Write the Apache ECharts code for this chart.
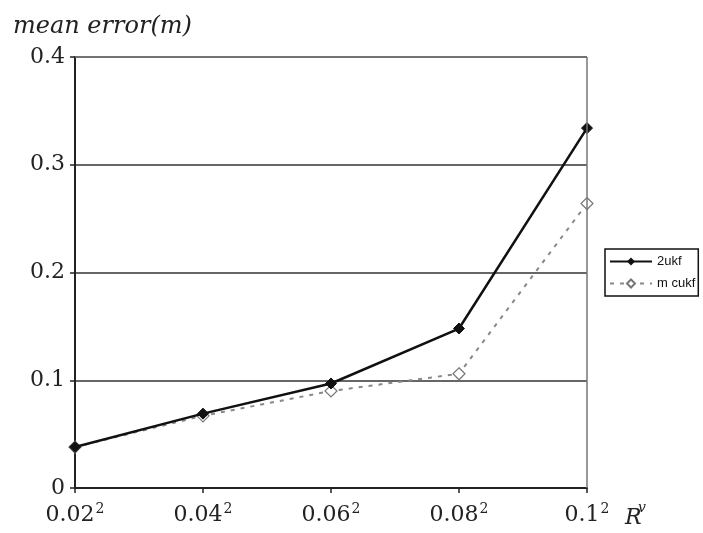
<!DOCTYPE html>
<html>
<head>
<meta charset="utf-8">
<script src="https://cdn.jsdelivr.net/npm/echarts@6/dist/echarts.min.js"></script>
<style>
  html, body { margin: 0; padding: 0; background: #fff; }
  #chart { width: 703px; height: 533px; }
</style>
</head>
<body>
<div id="chart"></div>
<script>
var categories = ['0.02', '0.04', '0.06', '0.08', '0.1'];
var ukf2 = [0.038, 0.069, 0.097, 0.148, 0.334];
var mcukf = [0.038, 0.067, 0.090, 0.106, 0.264];
var yTicks = [0, 0.1, 0.2, 0.3, 0.4];

var serif = '"DejaVu Serif", "Liberation Serif", serif';
var myEchart = echarts.init(document.getElementById('chart'));
var option = {
  backgroundColor: '#fff',
  animation: false,
  grid: { left: 75, right: 116, top: 57, bottom: 45 },
  title: [
    { text: 'mean error(m)', left: 8, top: 10,
      textStyle: { fontFamily: serif, fontStyle: 'italic', fontWeight: 'normal', fontSize: 24, color: '#222' } },
    { text: 'R', left: 620, top: 502,
      textStyle: { fontFamily: serif, fontStyle: 'italic', fontWeight: 'normal', fontSize: 22, color: '#222' } }
  ],
  graphic: [
    { type: 'text', left: 638, top: 501,
      style: { text: 'v', font: 'italic 14px ' + serif, fill: '#222' } }
  ],
  legend: {
    orient: 'vertical',
    left: 605, top: 249,
    itemWidth: 42, itemHeight: 10, itemGap: 9,
    padding: [6, 3, 6, 4],
    borderColor: '#111', borderWidth: 1.5,
    textStyle: { fontFamily: 'Liberation Sans, Arial, sans-serif', fontSize: 13, color: '#111' },
    data: ['2ukf', 'm cukf']
  },
  xAxis: {
    type: 'category',
    boundaryGap: false,
    data: categories,
    axisLine: { lineStyle: { color: '#222', width: 2 } },
    axisTick: { length: 5, lineStyle: { color: '#222', width: 1.5 } },
    axisLabel: {
      margin: 14,
      formatter: function (v) { return '{b|' + v + '}{s|2}'; },
      rich: {
        b: { fontFamily: serif, fontSize: 22, color: '#222' },
        s: { fontFamily: serif, fontSize: 14, color: '#222', verticalAlign: 'bottom', padding: [0, 0, 12, 1] }
      }
    }
  },
  yAxis: {
    type: 'value',
    min: 0, max: 0.4, interval: 0.1,
    axisLine: { show: true, lineStyle: { color: '#222', width: 2 } },
    axisTick: { show: true, length: 5, lineStyle: { color: '#222', width: 1.5 } },
    axisLabel: {
      margin: 10,
      fontFamily: serif, fontSize: 22, color: '#222',
      formatter: function (v) {
        for (var i = 0; i < yTicks.length; i++) {
          if (Math.abs(v - yTicks[i]) < 1e-9) return String(yTicks[i]);
        }
        return '';
      }
    },
    splitLine: { show: true, lineStyle: { color: '#333', width: 1.5 } }
  },
  series: [
    {
      name: '2ukf', type: 'line', data: ukf2,
      symbol: 'diamond', symbolSize: 11,
      lineStyle: { color: '#111', width: 2.5 },
      itemStyle: { color: '#111', borderColor: '#111' },
      z: 3
    },
    {
      name: 'm cukf', type: 'line', data: mcukf,
      symbol: 'diamond', symbolSize: 12,
      lineStyle: { color: '#888', width: 2, type: [4, 6] },
      itemStyle: { color: '#fff', borderColor: '#777', borderWidth: 1.2 },
      z: 2
    },
    {
      // right & top frame of the plot
      type: 'line', data: [], silent: true,
      markLine: {
        silent: true, symbol: 'none', label: { show: false },
        lineStyle: { color: '#777', width: 1.5, type: 'solid' },
        data: [
          [{ coord: ['0.1', 0] }, { coord: ['0.1', 0.4] }],
          [{ coord: ['0.02', 0.4] }, { coord: ['0.1', 0.4] }]
        ]
      }
    }
  ]
};
myEchart.setOption(option);
</script>
</body>
</html>
